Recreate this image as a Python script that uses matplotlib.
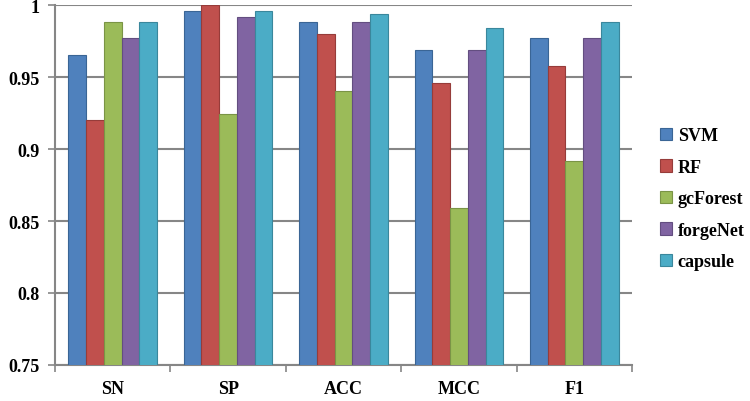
import matplotlib.pyplot as plt
import numpy as np

categories = ['SN', 'SP', 'ACC', 'MCC', 'F1']
models = ['SVM', 'RF', 'gcForest', 'forgeNet', 'capsule']
svm = [0.965, 0.996, 0.988, 0.969, 0.977]
rf = [0.920, 1.000, 0.980, 0.946, 0.958]
gcforest = [0.988, 0.924, 0.940, 0.859, 0.892]
forgenet = [0.977, 0.992, 0.988, 0.969, 0.977]
capsule = [0.988, 0.996, 0.994, 0.984, 0.988]
colors = ['#4F81BD', '#C0504D', '#9BBB59', '#8064A2', '#4BACC6']
edges = ['#3A6595', '#963C3A', '#7A9446', '#634E80', '#3A879C']

plt.rcParams['font.family'] = ['Liberation Serif', 'DejaVu Serif']
plt.rcParams['font.weight'] = 'bold'

fig = plt.figure(figsize=(7.5, 4.02), dpi=100)
ax = fig.add_axes([0.0733, 0.0896, 0.7694, 0.8954])

series = [svm, rf, gcforest, forgenet, capsule]
x = np.arange(len(categories))
w = 1 / 6.5
for i, (vals, name) in enumerate(zip(series, models)):
    ax.bar(x + (i - 2) * w, vals, width=w, color=colors[i], edgecolor=edges[i],
           linewidth=0.8, label=name, zorder=3)

ax.set_ylim(0.75, 1.0)
ax.set_xlim(-0.5, len(categories) - 0.5)
ax.set_yticks(np.arange(0.75, 1.001, 0.05))
ax.set_yticklabels(['0.75', '0.8', '0.85', '0.9', '0.95', '1'])
ax.yaxis.grid(True, color='#868686', linewidth=1.5, zorder=0)
ax.set_xticks(x)
ax.set_xticklabels(categories)
ax.set_xticks(np.arange(-0.5, len(categories), 1), minor=True)
ax.tick_params(axis='x', which='major', length=0, pad=11, labelsize=13)
ax.tick_params(axis='x', which='minor', length=5, color='#868686', width=1.2)
ax.tick_params(axis='y', length=5, color='#868686', width=1.2, labelsize=13, pad=6)
for s in ['top', 'right']:
    ax.spines[s].set_visible(False)
for s in ['left', 'bottom']:
    ax.spines[s].set_color('#868686')
    ax.spines[s].set_linewidth(1.5)

ax.legend(loc='upper left', bbox_to_anchor=(1.02, 0.705), frameon=False,
          fontsize=13, handlelength=0.7, handleheight=0.7, handletextpad=0.3,
          labelspacing=0.8)

fig.savefig('out.png', dpi=100)
